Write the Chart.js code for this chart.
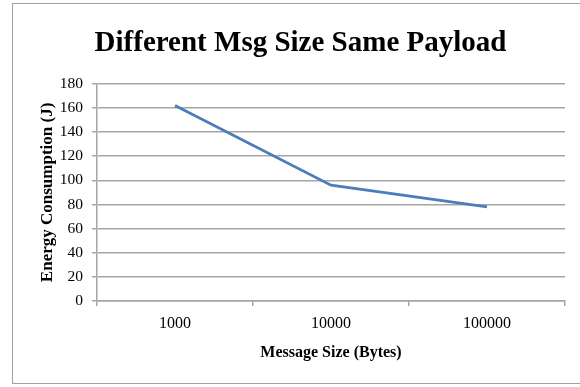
<!DOCTYPE html>
<html>
<head>
<meta charset="utf-8">
<script src="https://cdn.jsdelivr.net/npm/chart.js@4/dist/chart.umd.min.js"></script>
<style>
  html, body { margin: 0; padding: 0; background: #fff; }
  #wrap { position: relative; width: 580px; height: 387px; overflow: hidden; }
  #frame { position: absolute; left: 12px; top: 3px; width: 600px; height: 381px; border: 1px solid #a0a0a0; box-sizing: border-box; }
  canvas { position: absolute; left: 0; top: 0; }
</style>
</head>
<body>
<div id="wrap">
  <div id="frame"></div>
  <canvas id="chart" width="580" height="387"></canvas>
</div>
<script>
// chart data
const categories = ["1000", "10000", "100000"];
const energyValues = [162, 96, 78];
const yTicks = { min: 0, max: 180, step: 20 };

const serif = "'Liberation Serif', 'Times New Roman', serif";
const gridGray = "#a6a6a6";

const ctx = document.getElementById("chart").getContext("2d");

new Chart(ctx, {
  type: "line",
  data: {
    labels: categories,
    datasets: [
      {
        label: "Energy",
        data: energyValues,
        borderColor: "#4a7ebb",
        borderWidth: 2.75,
        pointRadius: 0,
        tension: 0,
        fill: false,
      },
    ],
  },
  options: {
    responsive: false,
    animation: false,
    layout: { padding: { left: 36, right: 15, top: 0, bottom: 0 } },
    plugins: {
      legend: { display: false },
      tooltip: { enabled: false },
      title: {
        display: true,
        text: "Different Msg Size Same Payload",
        color: "#000",
        font: { family: serif, size: 29, weight: "bold", lineHeight: 1.2 },
        padding: { top: 26, bottom: 23 },
      },
    },
    scales: {
      x: {
        offset: true,
        grid: {
          offset: true,
          drawOnChartArea: false,
          color: gridGray,
          lineWidth: 1.5,
          tickLength: 5,
        },
        border: { color: gridGray, width: 1.5 },
        ticks: {
          color: "#000",
          font: { family: serif, size: 16 },
          padding: 8,
          maxRotation: 0,
        },
        title: {
          display: true,
          text: "Message Size (Bytes)",
          color: "#000",
          font: { family: serif, size: 16, weight: "bold" },
          padding: { top: 0, bottom: 25 },
        },
        afterFit: (scale) => {
          scale.height = 86;
        },
      },
      y: {
        min: yTicks.min,
        max: yTicks.max,
        grid: { color: gridGray, lineWidth: 1.5, tickLength: 5 },
        border: { color: gridGray, width: 1.5 },
        ticks: {
          stepSize: yTicks.step,
          color: "#000",
          font: { family: serif, size: 15.5 },
          padding: 9,
        },
        title: {
          display: true,
          text: "Energy Consumption (J)",
          color: "#000",
          font: { family: serif, size: 17, weight: "bold" },
          padding: { top: 1, bottom: 0 },
        },
        afterFit: (scale) => {
          scale.width = 61;
        },
      },
    },
  },
});
</script>
</body>
</html>
